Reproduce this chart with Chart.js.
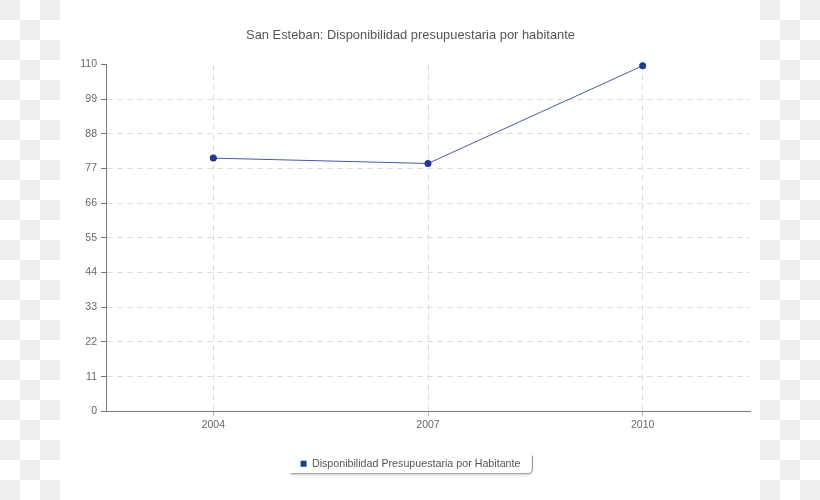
<!DOCTYPE html>
<html>
<head>
<meta charset="utf-8">
<script src="https://cdn.jsdelivr.net/npm/chart.js@4.4.1/dist/chart.umd.min.js"></script>
<style>
    html, body {
        margin: 0;
        padding: 0;
        width: 820px;
        height: 500px;
        overflow: hidden;
        background: repeating-conic-gradient(#fff 0% 25%, #eeeeee 0% 50%) 0 0 / 40px 40px;
    }
    .white-bg {
        position: absolute;
        left: 60px;
        top: 0;
        width: 700px;
        height: 500px;
        background: #fff;
    }
    #myChart {
        position: absolute;
        left: 0;
        top: 0;
    }
</style>
</head>
<body>
<div class="white-bg"></div>
<canvas id="myChart" width="820" height="500"></canvas>
<script>
// data
const years = ['2004', '2007', '2010'];
const budgetPerPerson = [80.3, 78.6, 109.6];
const yTicks = [0, 11, 22, 33, 44, 55, 66, 77, 88, 99, 110];
const seriesName = 'Disponibilidad Presupuestaria por Habitante';
const chartTitle = 'San Esteban: Disponibilidad presupuestaria por habitante';

const lineColor = '#4a5aa8';
const pointColor = '#1f3a8f';
const font = 'Liberation Sans';

//draws the little rounded shadow box around the legend
const legendBox = {
    id: 'legendBox',
    afterDraw(chart) {
        const hb = chart.legend.legendHitBoxes[0];
        if (!hb) return;
        const ctx = chart.ctx;
        const mid = hb.top + hb.height / 2;
        const x0 = hb.left - 10;
        const x1 = hb.left + hb.width + 12;
        const yB = mid + 10;
        const yT = mid - 8;
        const r = 5;
        ctx.save();
        ctx.strokeStyle = '#9a9a9a';
        ctx.lineWidth = 1;
        ctx.shadowColor = 'rgba(0,0,0,0.25)';
        ctx.shadowBlur = 2;
        ctx.shadowOffsetY = 1;
        ctx.beginPath();
        ctx.moveTo(x0, yB);
        ctx.lineTo(x1 - r, yB);
        ctx.quadraticCurveTo(x1, yB, x1, yB - r);
        ctx.lineTo(x1, yT);
        ctx.stroke();
        ctx.restore();
    }
};

new Chart('myChart', {
    type: 'line',
    data: {
        labels: years,
        datasets: [{
            label: seriesName,
            data: budgetPerPerson,
            borderColor: lineColor,
            backgroundColor: pointColor,
            borderWidth: 1,
            pointBackgroundColor: pointColor,
            pointBorderColor: pointColor,
            pointBorderWidth: 0,
            pointRadius: 3.5,
            tension: 0,
            clip: false
        }]
    },
    options: {
        responsive: false,
        animation: false,
        devicePixelRatio: 1,
        layout: {
            //left and right nearly equal so the title and legend sit centred like the original
            padding: { left: 71, right: 70, top: 0, bottom: 21 }
        },
        scales: {
            x: {
                offset: true,
                afterFit: (s) => { s.height = 37; },
                grid: {
                    color: '#dddddd',
                    tickColor: '#b5b5b5',
                    tickLength: 5
                },
                border: { color: '#777', dash: [6, 4] },
                ticks: { color: '#666', padding: 3, font: { family: font, size: 10.5 } }
            },
            y: {
                min: 0,
                max: 110,
                afterFit: (s) => { s.width = 35; },
                afterBuildTicks: (s) => { s.ticks = yTicks.map(v => ({ value: v })); },
                grid: {
                    //no grid line on the top value
                    color: (c) => (c.tick && c.tick.value === 110) ? 'rgba(0,0,0,0)' : '#dddddd',
                    tickColor: '#777',
                    tickLength: 5
                },
                border: { color: '#777', dash: [6, 4] },
                ticks: { color: '#666', padding: 4, font: { family: font, size: 10.5 } }
            }
        },
        plugins: {
            title: {
                display: true,
                text: chartTitle,
                color: '#555',
                font: { family: font, size: 12.9, weight: 'normal' },
                padding: { top: 28, bottom: 21 }
            },
            legend: {
                position: 'bottom',
                labels: {
                    usePointStyle: true,
                    pointStyle: 'rect',
                    boxWidth: 6,
                    boxHeight: 6,
                    color: '#555',
                    padding: 10,
                    font: { family: font, size: 10.7 }
                }
            },
            tooltip: { enabled: false }
        }
    },
    plugins: [legendBox]
});
</script>
</body>
</html>
